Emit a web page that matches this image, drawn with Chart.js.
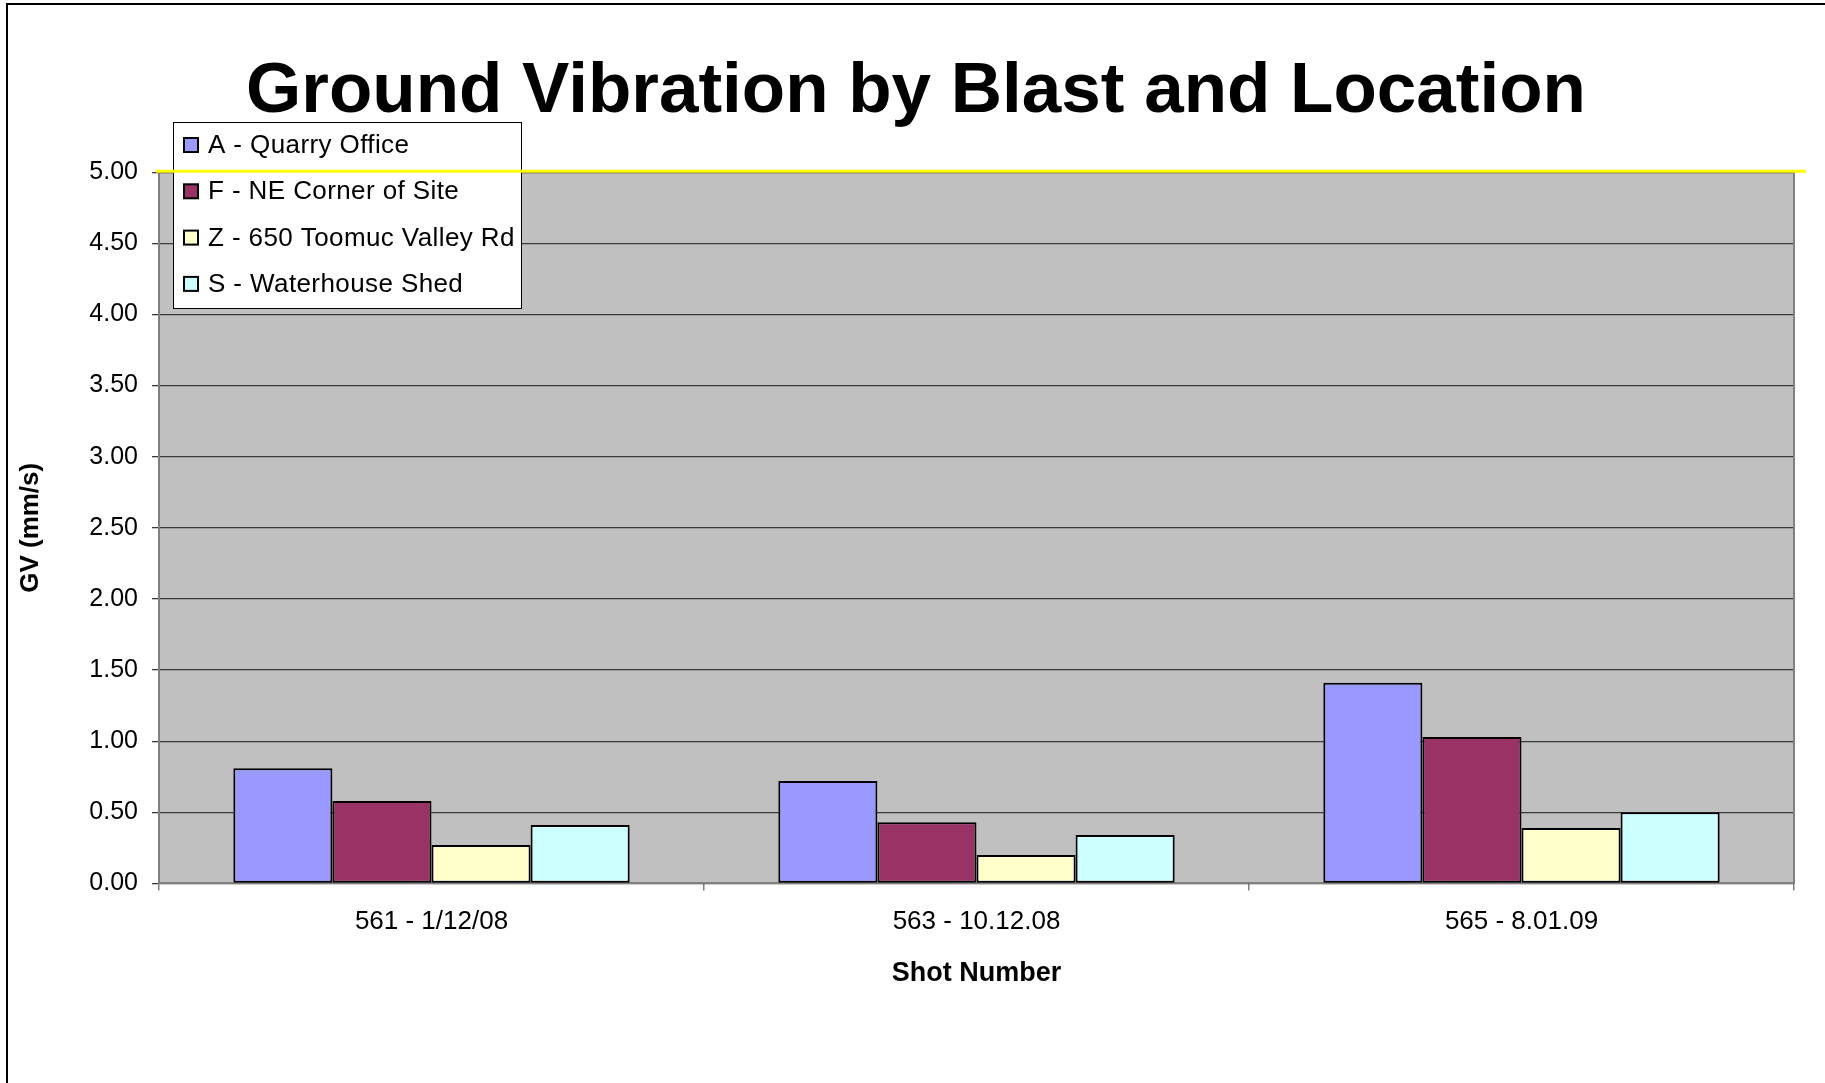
<!DOCTYPE html>
<html>
<head>
<meta charset="utf-8">
<title>Ground Vibration by Blast and Location</title>
<script src="https://cdn.jsdelivr.net/npm/chart.js@4/dist/chart.umd.min.js"></script>
<style>
body { margin: 0; background: #fff; }
canvas { display: block; }
</style>
</head>
<body>
<canvas id="chart" width="1825" height="1083"></canvas>
<script>

// shot numbers (x categories)
const shots = ["561 - 1/12/08", "563 - 10.12.08", "565 - 8.01.09"]

// GV readings in mm/s per location
const quarryOffice = [0.81, 0.72, 1.41]
const neCorner = [0.58, 0.43, 1.03]
const toomucValley = [0.27, 0.20, 0.39]
const waterhouseShed = [0.41, 0.34, 0.50]

const seriesNames = ["A - Quarry Office", "F - NE Corner of Site", "Z - 650 Toomuc Valley Rd", "S - Waterhouse Shed"]
const seriesColors = ["#9999FF", "#993366", "#FFFFCC", "#CCFFFF"]

const yTicksMin = 0
const yTicksMax = 5
const yStep = 0.5
const limitLine = 5.00

const font = "'Liberation Sans', Arial, sans-serif"

const values = [quarryOffice, neCorner, toomucValley, waterhouseShed]

const datasets = values.map((vals, i) => ({
label: seriesNames[i],
data: vals,
backgroundColor: seriesColors[i],
borderColor: "#000",
borderWidth: 2,
borderSkipped: false,
categoryPercentage: 4 / 5.5,
barPercentage: 1
}))

// grey plot background
const plotBg = {
id: "plotBg",
beforeDraw(chart){
const a = chart.chartArea
const ctx = chart.ctx
ctx.save()
ctx.fillStyle = "#C0C0C0"
ctx.fillRect(a.left, a.top, a.right - a.left, a.bottom - a.top)
ctx.restore()
}
}

// legend box, limit line and page frame
const extras = {
id: "extras",
afterDraw(chart){
const ctx = chart.ctx
const a = chart.chartArea
ctx.save()

// legend
ctx.fillStyle = "#fff"
ctx.fillRect(173, 122, 348, 186)
ctx.strokeStyle = "#000"
ctx.lineWidth = 1
ctx.strokeRect(173.5, 122.5, 348, 186)
ctx.font = "26px " + font
ctx.letterSpacing = "0.4px"
ctx.textBaseline = "middle"
chart.data.datasets.forEach((ds, i) => {
const cy = 145 + i * 46.3
ctx.fillStyle = ds.backgroundColor
ctx.fillRect(184, cy - 7, 14, 14)
ctx.lineWidth = 2
ctx.strokeStyle = "#000"
ctx.strokeRect(184, cy - 7, 14, 14)
ctx.fillStyle = "#000"
ctx.fillText(ds.label, 208, cy + 1)
})
ctx.letterSpacing = "0px"

// yellow limit line
const y = chart.scales.y.getPixelForValue(limitLine)
ctx.strokeStyle = "#FFFF00"
ctx.lineWidth = 3
ctx.beginPath()
ctx.moveTo(a.left - 3, y - 1)
ctx.lineTo(a.right + 12, y - 1)
ctx.stroke()

// outer frame (left and top)
ctx.strokeStyle = "#000"
ctx.lineWidth = 2
ctx.beginPath()
ctx.moveTo(7, chart.height)
ctx.lineTo(7, 4)
ctx.lineTo(chart.width, 4)
ctx.stroke()

ctx.restore()
}
}

const ctx = document.getElementById("chart").getContext("2d")

new Chart(ctx, {
type: "bar",
data: {
labels: shots,
datasets: datasets
},
plugins: [plotBg, extras],
options: {
responsive: false,
animation: false,
layout: {
padding: { left: 7, right: 0, top: 4, bottom: 93 }
},
plugins: {
legend: { display: false },
tooltip: { enabled: false },
title: {
display: true,
text: "Ground Vibration by Blast and Location",
color: "#000",
font: { family: font, size: 71, weight: "bold" },
padding: { top: 46, bottom: 37 }
}
},
scales: {
x: {
grid: {
offset: true,
drawOnChartArea: false,
drawTicks: true,
tickLength: 7,
color: "#808080",
lineWidth: 1.5
},
border: { color: "#808080", width: 2 },
ticks: {
color: "#000",
padding: 16,
maxRotation: 0,
font: { family: font, size: 26 }
},
title: {
display: true,
text: "Shot Number",
color: "#000",
font: { family: font, size: 27, weight: "bold" },
padding: { top: 4, bottom: 0 }
}
},
y: {
min: yTicksMin,
max: yTicksMax,
afterFit(scale){ scale.width = 152 },
grid: {
color: "#3a3a3a",
lineWidth: 1.3,
tickLength: 7,
tickColor: "#3a3a3a"
},
border: { color: "#808080", width: 2 },
ticks: {
stepSize: yStep,
color: "#000",
padding: 14,
font: { family: font, size: 25 },
callback: v => v.toFixed(2)
},
title: {
display: true,
text: "GV (mm/s)",
color: "#000",
font: { family: font, size: 26, weight: "bold" },
padding: { top: 8, bottom: 0 }
}
},
y2: {
position: "right",
min: yTicksMin,
max: yTicksMax,
afterFit(scale){ scale.width = 31 },
grid: { drawOnChartArea: false, drawTicks: false },
border: { color: "#808080", width: 2 },
ticks: { display: false }
}
}
}
})

</script>
</body>
</html>
